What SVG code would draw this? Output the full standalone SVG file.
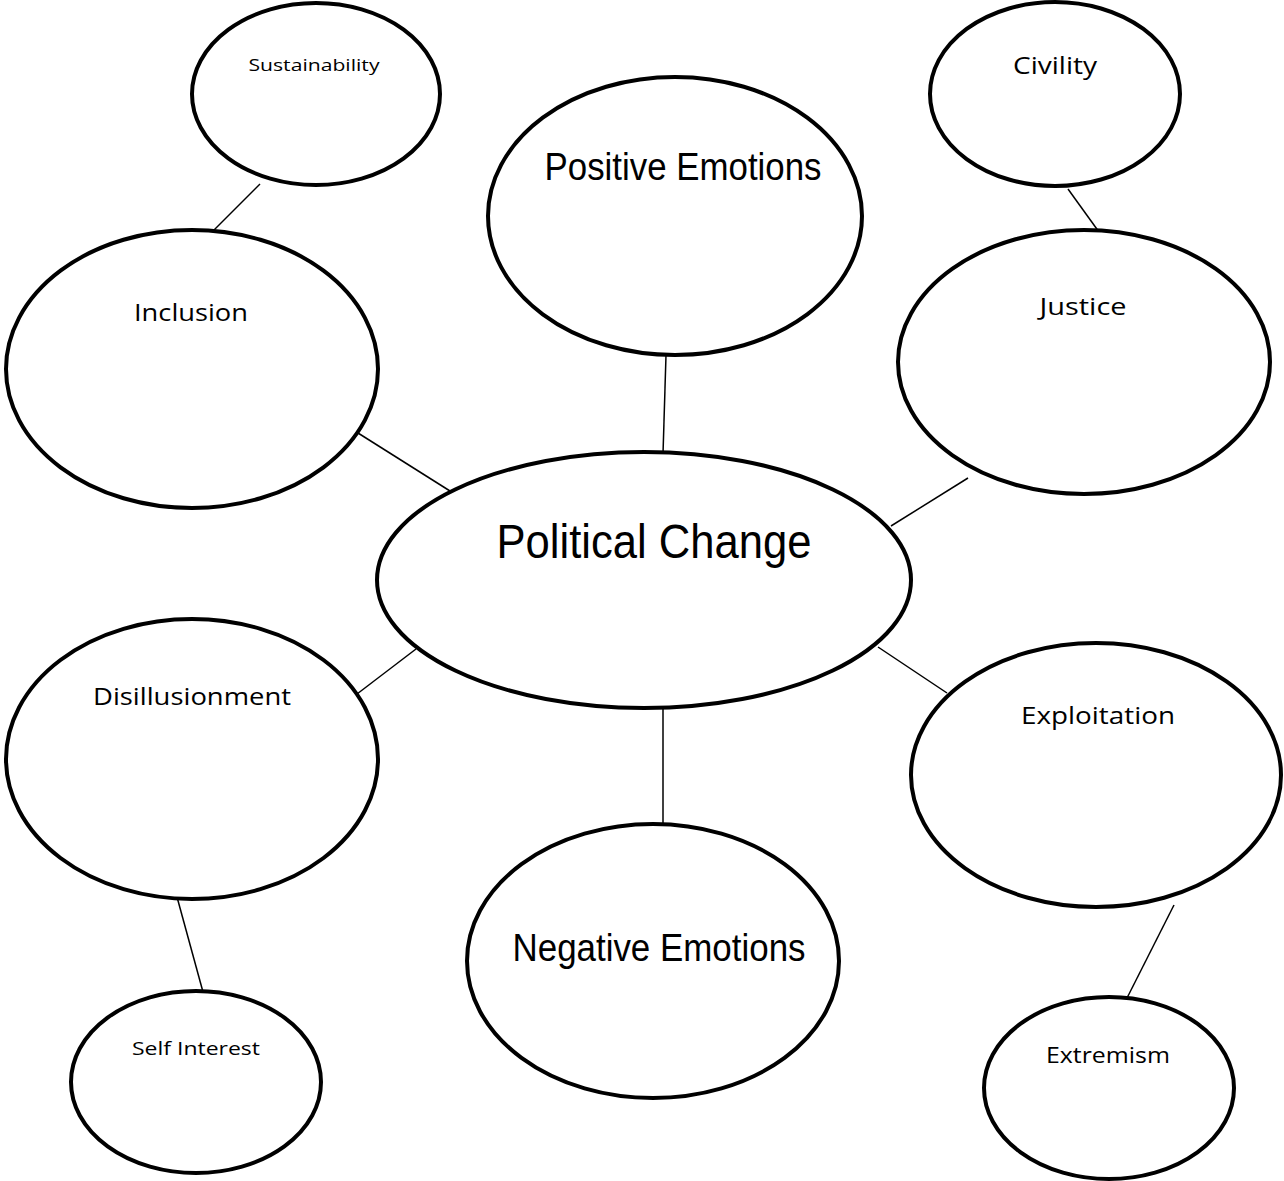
<svg xmlns="http://www.w3.org/2000/svg" width="1284" height="1181" viewBox="0 0 1284 1181">
  <style>
    .node { fill: #fff; stroke: #000; stroke-width: 4; }
    .link { stroke: #000; stroke-width: 1.5; fill: none; }
    .big { font-family: "Liberation Sans", Arial, sans-serif; fill: #000; }
    .lbl { font-family: "Open Sans", "Noto Sans", sans-serif; fill: #000; }
  </style>
  <rect width="1284" height="1181" fill="#fff"/>

  <g id="connectors">
    <line class="link" x1="260" y1="184" x2="213" y2="231"/>
    <line class="link" x1="1068" y1="189" x2="1099" y2="232"/>
    <line class="link" x1="666" y1="355" x2="663" y2="454"/>
    <line class="link" x1="358" y1="433" x2="450" y2="491"/>
    <line class="link" x1="968" y1="478" x2="891" y2="526"/>
    <line class="link" x1="416" y1="649" x2="357" y2="694"/>
    <line class="link" x1="878" y1="647" x2="947" y2="693"/>
    <line class="link" x1="663" y1="708" x2="663" y2="826"/>
    <line class="link" x1="177" y1="897" x2="203" y2="992"/>
    <line class="link" x1="1174" y1="905" x2="1127" y2="998"/>
  </g>

  <g id="sustainability">
    <ellipse class="node" cx="316" cy="94" rx="124" ry="91"/>
    <text class="lbl" x="314" y="71" font-size="17" text-anchor="middle" textLength="131" lengthAdjust="spacingAndGlyphs">Sustainability</text>
  </g>

  <g id="civility">
    <ellipse class="node" cx="1055" cy="94" rx="125" ry="92"/>
    <text class="lbl" x="1055" y="74" font-size="24" text-anchor="middle" textLength="84" lengthAdjust="spacingAndGlyphs">Civility</text>
  </g>

  <g id="positive-emotions">
    <ellipse class="node" cx="675" cy="216" rx="187" ry="139"/>
    <text class="big" x="683" y="180" font-size="38" text-anchor="middle" textLength="277" lengthAdjust="spacingAndGlyphs">Positive Emotions</text>
  </g>

  <g id="inclusion">
    <ellipse class="node" cx="192" cy="369" rx="186" ry="139"/>
    <text class="lbl" x="191" y="321" font-size="24" text-anchor="middle" textLength="114" lengthAdjust="spacingAndGlyphs">Inclusion</text>
  </g>

  <g id="justice">
    <ellipse class="node" cx="1084" cy="362" rx="186" ry="132"/>
    <text class="lbl" x="1083" y="315" font-size="24" text-anchor="middle" textLength="87" lengthAdjust="spacingAndGlyphs">Justice</text>
  </g>

  <g id="political-change">
    <ellipse class="node" cx="644" cy="580" rx="267" ry="128"/>
    <text class="big" x="654" y="558" font-size="49" text-anchor="middle" textLength="315" lengthAdjust="spacingAndGlyphs">Political Change</text>
  </g>

  <g id="disillusionment">
    <ellipse class="node" cx="192" cy="759" rx="186" ry="140"/>
    <text class="lbl" x="192" y="705" font-size="24" text-anchor="middle" textLength="198" lengthAdjust="spacingAndGlyphs">Disillusionment</text>
  </g>

  <g id="exploitation">
    <ellipse class="node" cx="1096" cy="775" rx="185" ry="132"/>
    <text class="lbl" x="1098" y="724" font-size="24" text-anchor="middle" textLength="154" lengthAdjust="spacingAndGlyphs">Exploitation</text>
  </g>

  <g id="negative-emotions">
    <ellipse class="node" cx="653" cy="961" rx="186" ry="137"/>
    <text class="big" x="659" y="961" font-size="38" text-anchor="middle" textLength="293" lengthAdjust="spacingAndGlyphs">Negative Emotions</text>
  </g>

  <g id="self-interest">
    <ellipse class="node" cx="196" cy="1082" rx="125" ry="91"/>
    <text class="lbl" x="196" y="1055" font-size="19" text-anchor="middle" textLength="128" lengthAdjust="spacingAndGlyphs">Self Interest</text>
  </g>

  <g id="extremism">
    <ellipse class="node" cx="1109" cy="1088" rx="125" ry="91"/>
    <text class="lbl" x="1108" y="1063" font-size="21" text-anchor="middle" textLength="124" lengthAdjust="spacingAndGlyphs">Extremism</text>
  </g>
</svg>
